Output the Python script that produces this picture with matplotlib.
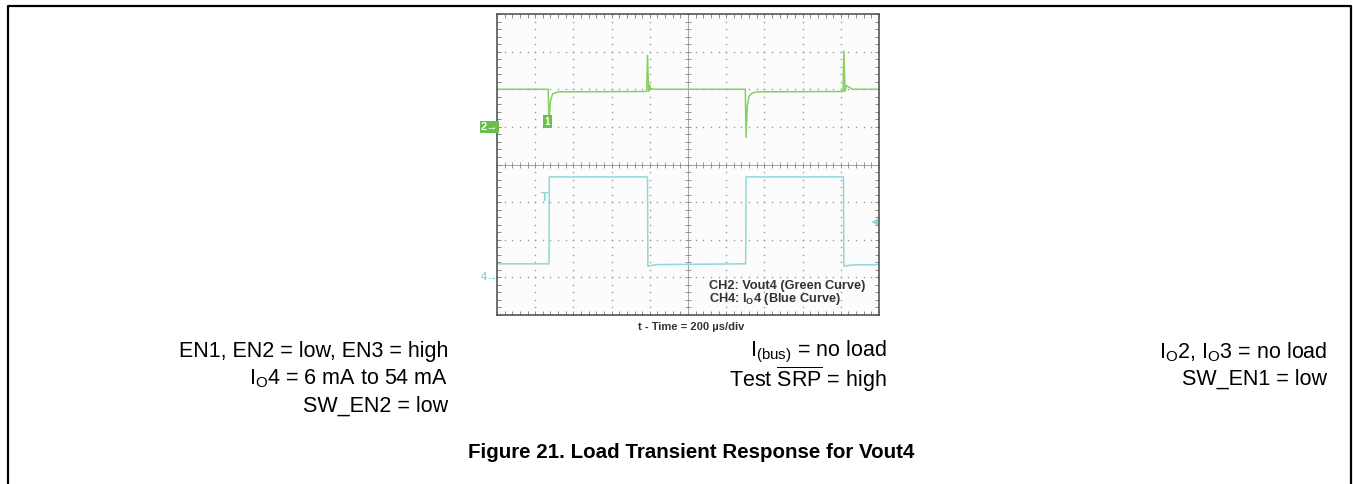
import numpy as np
import matplotlib
matplotlib.use("Agg")
import matplotlib.pyplot as plt
from matplotlib.lines import Line2D

plt.rcParams['font.family'] = ['Liberation Sans', 'DejaVu Sans']
plt.rcParams['mathtext.fontset'] = 'custom'
plt.rcParams['mathtext.rm'] = 'Liberation Sans'
plt.rcParams['mathtext.bf'] = 'Liberation Sans:bold'

# scope traces, in screen divisions (x: 0-10 time, y: 0-8 vertical)
ch2_t = [0.0, 1.34, 1.36, 1.40, 1.46, 1.60, 3.92, 3.94, 3.97, 3.99, 4.02, 4.15,
         6.50, 6.52, 6.55, 6.60, 6.68, 6.80, 9.06, 9.08, 9.11, 9.14, 9.30, 10.0]
ch2_v = [6.00, 6.00, 5.10, 5.70, 5.88, 5.93, 5.94, 6.90, 5.95, 6.12, 6.02, 6.00,
         6.00, 4.72, 5.55, 5.82, 5.90, 5.93, 5.94, 7.02, 5.95, 6.10, 6.00, 6.00]
ch4_t = [0.0, 1.36, 1.37, 3.94, 3.95, 4.20, 6.51, 6.52, 9.07, 9.08, 9.30, 10.0]
ch4_v = [1.36, 1.36, 3.67, 3.67, 1.30, 1.34, 1.36, 3.67, 3.67, 1.30, 1.33, 1.34]

ch2_marker = 5.0
ch4_marker = 1.0
trigger_t = 1.36

left_notes = [r'EN1, EN2 = low, EN3 = high', r'I$_{\mathregular{O}}$4 = 6 mA to 54 mA', 'SW_EN2 = low']
mid_notes = [r'I$_{\mathregular{(bus)}}$ = no load', r'Test $\overline{\mathregular{SRP}}$ = high']
right_notes = [r'I$_{\mathregular{O}}$2, I$_{\mathregular{O}}$3 = no load', 'SW_EN1 = low']
caption = 'Figure 21. Load Transient Response for Vout4'

W, H = 1353, 484
fig = plt.figure(figsize=(W / 100, H / 100), dpi=100)
fig.patch.set_facecolor('white')

# page frame
fig.add_artist(Line2D([8 / W, 8 / W, 1351 / W, 1351 / W], [0, 1 - 6 / H, 1 - 6 / H, 0],
                      transform=fig.transFigure, color='black', lw=1.6))

x0, x1, y0, y1 = 497, 879, 14, 315
ax = fig.add_axes([x0 / W, 1 - y1 / H, (x1 - x0) / W, (y1 - y0) / H])
ax.set_xlim(0, 10)
ax.set_ylim(0, 8)
ax.set_facecolor('#fbfcfb')
for s in ax.spines.values():
    s.set_color('#555555')
    s.set_linewidth(1.2)

minor_x = np.arange(0, 10.01, 0.2)
minor_y = np.arange(0, 8.01, 0.2)
ax.set_xticks(minor_x)
ax.set_yticks(minor_y)
ax.tick_params(direction='in', length=3, width=0.6, color='#777777',
               top=True, right=True, labelbottom=False, labelleft=False)

# dotted graticule
for gx in range(1, 10):
    if gx != 5:
        ax.plot([gx] * len(minor_y), minor_y, ls='none', marker='s', ms=1.0, color='#9a9a9a', mew=0)
for gy in range(1, 8):
    if gy != 4:
        ax.plot(minor_x, [gy] * len(minor_x), ls='none', marker='s', ms=1.0, color='#9a9a9a', mew=0)
# center cross with ticks
ax.axvline(5, color='#999999', lw=0.6)
ax.axhline(4, color='#999999', lw=0.6)
ax.plot([5] * len(minor_y), minor_y, ls='none', marker='_', ms=5, mew=0.6, color='#888888')
ax.plot(minor_x, [4] * len(minor_x), ls='none', marker='|', ms=5, mew=0.6, color='#888888')

green = '#86cf63'
cyan = '#8fd8d8'
ax.plot(ch2_t, ch2_v, color=green, lw=1.1)
ax.plot(ch4_t, ch4_v, color=cyan, lw=1.1)

# channel markers
ax.text(-0.2, ch2_marker, '2\u2192', color='white', fontsize=8, fontweight='bold',
        ha='center', va='center', clip_on=False,
        bbox=dict(boxstyle='square,pad=0.1', fc='#6cbf4a', ec='none'))
ax.text(-0.2, ch4_marker, '4\u2192', color=cyan, fontsize=8, fontweight='bold',
        ha='center', va='center', clip_on=False)
ax.text(trigger_t - 0.04, ch2_marker + 0.14, '1', color='white', fontsize=7, fontweight='bold',
        ha='center', va='center',
        bbox=dict(boxstyle='square,pad=0.15', fc='#6cbf4a', ec='none'))
ax.text(trigger_t - 0.1, 3.12, 'T', color=cyan, fontsize=9, fontweight='bold', ha='center', va='center')
ax.plot([9.9], [2.47], marker='<', ms=6, color=cyan, mew=0)

ax.text(5.55, 0.77, 'CH2: Vout4 (Green Curve)', color='#333333', fontsize=9.2, fontweight='bold',
        ha='left', va='center')
ax.text(5.55, 0.43, r'CH4: I$_{\mathbf{O}}$4 (Blue Curve)', color='#333333', fontsize=9.2,
        fontweight='bold', ha='left', va='center')

fig.text(691 / W, 1 - 327 / H, 't - Time = 200 \u00b5s/div', fontsize=8, fontweight='bold',
         color='#333333', ha='center', va='center')

for i, s in enumerate(left_notes):
    fig.text(448 / W, 1 - (352 + 27 * i) / H, s, fontsize=15.5, ha='right', va='center')
for i, s in enumerate(mid_notes):
    fig.text(887 / W, 1 - (352 + 27 * i) / H, s, fontsize=15.5, ha='right', va='center')
for i, s in enumerate(right_notes):
    fig.text(1327 / W, 1 - (352 + 27 * i) / H, s, fontsize=15.5, ha='right', va='center')

fig.text(691 / W, 1 - 452 / H, caption, fontsize=14.8, fontweight='bold', ha='center', va='center')

fig.savefig('out.png', dpi=100)
